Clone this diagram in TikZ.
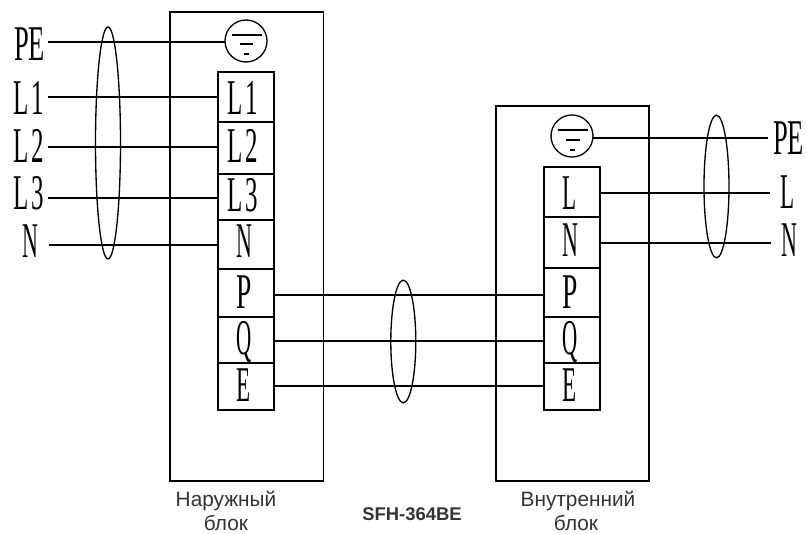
\documentclass[tikz,border=0pt]{standalone}
\usepackage{fontspec}
\setmainfont{Liberation Serif}
\newfontfamily\sansrus{Liberation Sans}
\usetikzlibrary{shapes.geometric}
\definecolor{captiongray}{HTML}{333333}
\newcommand{\nar}[2]{\scalebox{#1}[1]{\fontsize{37.5pt}{40pt}\selectfont #2}}
\newcommand{\pair}[2]{\scalebox{.5}[1]{\fontsize{37.5pt}{40pt}\selectfont #1\kern 4pt #2}}
\tikzset{
  wire/.style={line width=1pt,black},
  frame/.style={draw=black,line width=1pt,rectangle,anchor=north west,inner sep=0pt,outer sep=0pt},
  cell/.style={frame},
  bundle/.style={draw=black,line width=1pt,ellipse,inner sep=0pt,outer sep=0pt,minimum width=18.75pt},
  gnd/.style={draw=black,line width=1pt,circle,inner sep=0pt,outer sep=0pt,minimum size=31.5pt},
  lab/.style={anchor=base,inner sep=0pt,outer sep=0pt,black},
  caption/.style={anchor=base,inner sep=0pt,outer sep=0pt,text=captiongray,font=\sansrus\fontsize{15.6pt}{18pt}\selectfont},
}
\begin{document}
\begin{tikzpicture}[x=0.75pt,y=-0.75pt]
\useasboundingbox (0,0) rectangle (807,534);
% housings
\node[frame,minimum width=115.1pt,minimum height=351.75pt] (outdoor) at (170,12) {};
\node[frame,minimum width=114.75pt,minimum height=281.25pt] (indoor) at (496,106) {};
% outdoor terminals
\node[cell,minimum width=42pt,minimum height=37.5pt] (oL1) at (218,72) {};
\node[cell,minimum width=42pt,minimum height=39pt] (oL2) at (218,122) {};
\node[cell,minimum width=42pt,minimum height=34.5pt] (oL3) at (218,174) {};
\node[cell,minimum width=42pt,minimum height=36.75pt] (oN) at (218,220) {};
\node[cell,minimum width=42pt,minimum height=36pt] (oP) at (218,269) {};
\node[cell,minimum width=42pt,minimum height=34.5pt] (oQ) at (218,317) {};
\node[cell,minimum width=42pt,minimum height=35.25pt] (oE) at (218,363) {};
% indoor terminals
\node[cell,minimum width=42pt,minimum height=37.5pt] (iL) at (544,167) {};
\node[cell,minimum width=42pt,minimum height=38.25pt] (iN) at (544,217) {};
\node[cell,minimum width=42pt,minimum height=36.75pt] (iP) at (544,268) {};
\node[cell,minimum width=42pt,minimum height=34.5pt] (iQ) at (544,317) {};
\node[cell,minimum width=42pt,minimum height=35.25pt] (iE) at (544,363) {};
% earth symbols
\node[gnd] (gndo) at (246,41) {};
\node[gnd] (gndi) at (572,136) {};
\draw[wire] (232,35) -- (262,35) (240,44) -- (253,44) (243.5,54) -- (249,54);
\draw[wire] (557.5,130) -- (587.5,130) (566,140) -- (580,140) (569.5,150) -- (575,150);
% free wire ends
\coordinate (ePE) at (48,42);
\coordinate (eL1) at (48,97);
\coordinate (eL2) at (48,147);
\coordinate (eL3) at (48,198);
\coordinate (eN) at (49,245);
\coordinate (ePEr) at (768,138);
\coordinate (eLr) at (770,193);
\coordinate (eNr) at (771,243);
\coordinate (ePm) at (274,295);
\coordinate (eQm) at (274,341);
\coordinate (eEm) at (274,386);
% wires, left
\draw[wire] (ePE) -- (gndo.west |- ePE);
\draw[wire] (eL1) -- (oL1.west |- eL1);
\draw[wire] (eL2) -- (oL2.west |- eL2);
\draw[wire] (eL3) -- (oL3.west |- eL3);
\draw[wire] (eN) -- (oN.west |- eN);
% wires, right
\draw[wire] (gndi.east |- ePEr) -- (ePEr);
\draw[wire] (iL.east |- eLr) -- (eLr);
\draw[wire] (iN.east |- eNr) -- (eNr);
% wires, between units
\draw[wire] (oP.east |- ePm) -- (iP.west |- ePm);
\draw[wire] (oQ.east |- eQm) -- (iQ.west |- eQm);
\draw[wire] (oE.east |- eEm) -- (iE.west |- eEm);
% bundles
\node[bundle,minimum height=174pt] (bLeft) at (108,143) {};
\node[bundle,minimum height=107pt] (bRight) at (716.5,186.5) {};
\node[bundle,minimum height=92pt] (bMid) at (403.3,341.5) {};
% left labels
\node[lab] (tPE) at (29.5,61) {\nar{.53}{PE}};
\node[lab] (tL1) at (29,115) {\pair{L}{1}};
\node[lab] (tL2) at (29,163) {\pair{L}{2}};
\node[lab] (tL3) at (29,210) {\pair{L}{3}};
\node[lab] (tN) at (30.5,258) {\nar{.44}{N}};
% outdoor terminal labels
\node[lab] (toL1) at (243,115) {\pair{L}{1}};
\node[lab] (toL2) at (243,163) {\pair{L}{2}};
\node[lab] (toL3) at (243,212) {\pair{L}{3}};
\node[lab] (toN) at (244,258) {\nar{.44}{N}};
\node[lab] (toP) at (244,309) {\nar{.55}{P}};
\node[lab] (toQ) at (244,355) {\nar{.42}{Q}};
\node[lab] (toE) at (244,402) {\nar{.46}{E}};
% indoor terminal labels
\node[lab] (tiL) at (570,210) {\nar{.46}{L}};
\node[lab] (tiN) at (570,257) {\nar{.44}{N}};
\node[lab] (tiP) at (570.5,309) {\nar{.55}{P}};
\node[lab] (tiQ) at (570.5,355) {\nar{.42}{Q}};
\node[lab] (tiE) at (570,402) {\nar{.46}{E}};
% right labels
\node[lab] (trPE) at (788.5,155) {\nar{.53}{PE}};
\node[lab] (trL) at (788,209) {\nar{.46}{L}};
\node[lab] (trN) at (789,257) {\nar{.44}{N}};
% captions
\node[caption] (cap1) at (226,507) {Наружный};
\node[caption] (cap2) at (226,530) {блок};
\node[caption] (cap3) at (578,507) {Внутренний};
\node[caption] (cap4) at (576,530) {блок};
\node[caption,font=\sansrus\bfseries\fontsize{13.8pt}{16pt}\selectfont] (model) at (412,520) {SFH-364BE};
\end{tikzpicture}
\end{document}
